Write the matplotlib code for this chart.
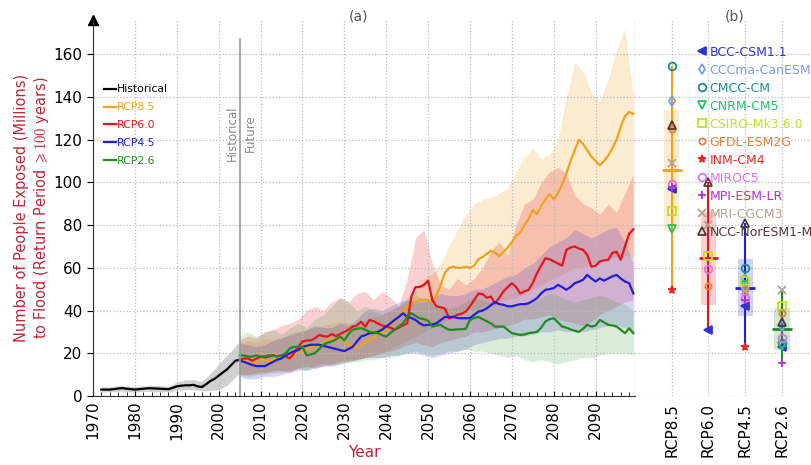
import numpy as np
import matplotlib
matplotlib.use("Agg")
import matplotlib.pyplot as plt

plt.rcParams['mathtext.fontset'] = 'cm'

# ---------------- data: panel (a) ----------------
hist_years = np.arange(1972, 2006)
hist = [3, 3, 3, 3.2, 3.5, 3.7, 3.4, 3.2, 3.0, 3.2, 3.4, 3.6, 3.6, 3.5, 3.4, 3.3, 3.2,
        3.8, 4.5, 4.8, 5.0, 5.0, 5.2, 4.5, 4.2, 5.5, 7, 8, 9.5, 11, 12.5, 14.5, 16.5, 17]
hist_lo = [1.8, 1.9, 2.0, 2.0, 2.2, 2.3, 2.1, 2.0, 1.9, 2.0, 2.1, 2.2, 2.2, 2.1, 2.0, 2.0, 1.9,
           2.2, 2.6, 2.8, 3.0, 3.0, 3.0, 2.7, 2.4, 2.5, 2.6, 2.8, 3.0, 4.0, 5.0, 7.0, 9.0, 10.5]
hist_hi = [4.2, 4.2, 4.3, 4.5, 4.8, 5.0, 4.7, 4.5, 4.3, 4.5, 4.7, 4.9, 5.0, 4.9, 4.8, 4.7, 4.6,
           5.5, 6.5, 7.0, 7.5, 7.5, 7.8, 7.0, 7.0, 8.5, 10.5, 12.5, 15.0, 17.0, 19.0, 21.0, 23.5, 25.5]

years = np.arange(2005, 2100)
rcp85 = [17, 16.5, 16, 15.5, 16,
         16.5, 17, 16, 17, 17.5, 18, 18.5, 19, 20, 20.5,
         21, 22, 23, 23.5, 24, 25, 26, 26.5, 27, 26.5,
         25.5, 24, 23, 22.5, 24, 25, 26.5, 27.5, 28.5, 29.5,
         31, 33, 35, 37, 40, 42, 43, 44, 45, 45,
         45, 44, 47, 52, 57.5, 60, 60.5, 60, 60, 60.5,
         60, 61, 64, 65, 66.5, 68, 67, 65.5, 67.5, 69.5,
         72, 75, 76.5, 80, 83, 87, 85, 89, 92, 94.5,
         92, 95, 99, 104, 110, 115, 120, 118, 115, 112,
         110, 108, 110, 112.5, 116, 120, 126, 131, 133, 132]
rcp60 = [17, 17.5, 17.6, 16.5, 17.5,
         18.4, 18, 18.5, 19, 18.5, 19, 18.5, 17.6, 20, 23,
         25.5, 26, 26, 27, 28.6, 28, 27.8, 29, 28, 29,
         30, 31, 32.5, 33, 34.8, 32.5, 35.6, 35, 34, 33,
         32.5, 32, 31, 32, 33, 34, 46.5, 51, 51, 52,
         54, 45, 42, 41.5, 41, 36.4, 37, 38, 38.5, 39.5,
         42, 45, 48, 47.7, 46, 46.5, 43.4, 46, 49, 51,
         52.8, 51, 48, 49, 49.7, 53, 57.5, 61, 64.5, 64,
         63, 62, 61, 68.4, 69.5, 70, 69, 68.4, 66, 60.5,
         61, 63, 63.5, 63.7, 67, 67.5, 63.7, 70, 76, 78]
rcp45 = [16.6, 16, 15.3, 14.5, 14,
         14, 14, 15, 16, 17, 17.6, 19, 20, 21, 21.5,
         23, 23.5, 24, 24, 24, 23.5, 23, 22.5, 22, 21.5,
         21, 22, 23, 25.5, 27.8, 28.5, 29.4, 29.5, 30, 31,
         32.5, 34, 35.6, 37, 38.75, 37, 36.5, 35.6, 34, 33,
         33.3, 33.5, 34, 35.5, 37, 37, 37, 36.5, 36.4, 36.4,
         36.5, 38, 39.5, 40, 41, 42.5, 44, 43, 42.7, 42,
         42, 42.5, 43, 43, 43.4, 44.5, 45.8, 48, 49.7, 50,
         50.5, 52, 51, 49.7, 51, 52.8, 53.5, 54.4, 56.7, 55,
         53.6, 55, 54, 55, 56, 56.7, 55, 53.6, 52.8, 48]
rcp26 = [19, 19, 18.4, 18.5, 19,
         18.5, 18.5, 19, 19, 18.5, 19, 20, 22.3, 23, 23,
         23, 19, 19.5, 20, 22, 24, 25, 25.5, 26.5, 27.8,
         26, 29, 31, 31.5, 31.7, 31, 30, 29.7, 29.4, 28.5,
         27.8, 29.5, 31, 32.5, 34, 37, 38.75, 37.5, 36.4, 36,
         35.3, 32.5, 33, 33.3, 32, 31, 31, 31.2, 31.2, 31.5,
         35.6, 36.5, 37, 36, 35, 34, 32.5, 32.5, 32.5, 31,
         29.4, 29, 28.6, 28.8, 29.4, 29.7, 30, 32, 34.8, 36,
         36.4, 34.5, 32.5, 32, 31.2, 30.5, 30, 31.5, 33.3, 32.5,
         33, 35.6, 34.5, 33.3, 33, 32.5, 31, 29.4, 31.7, 29.4]

# model spread (every 2 years)
band_years = np.arange(2005, 2100, 2)
rcp85_hi = [24, 26, 25, 27, 26, 28, 28, 30, 31, 32,
            33, 34, 35, 34, 33, 35, 37, 38, 40, 42,
            44, 50, 55, 57, 62, 70, 78, 85, 90, 92,
            93, 95, 97, 105, 112, 116, 111, 113, 120, 140,
            156, 152, 142, 138, 148, 162, 172, 140]
rcp85_lo = [10, 10, 10, 11, 11, 12, 12, 13, 13, 14,
            15, 15, 16, 16, 17, 18, 19, 20, 22, 24,
            26, 28, 30, 32, 34, 36, 38, 40, 40, 42,
            42, 44, 45, 46, 48, 50, 52, 54, 56, 58,
            60, 60, 62, 63, 64, 65, 66, 65]
rcp60_hi = [26, 28, 27, 30, 31, 33, 34, 36, 40, 42,
            40, 44, 46, 44, 48, 49, 45, 49, 46, 42,
            55, 74, 78, 62, 52, 50, 55, 52, 55, 60,
            68, 72, 66, 80, 90, 92, 100, 105, 107, 104,
            94, 90, 88, 85, 90, 86, 95, 104]
rcp60_lo = [10, 10, 11, 11, 12, 12, 11, 13, 14, 13,
            14, 15, 16, 17, 17, 18, 19, 20, 21, 22,
            24, 25, 24, 23, 25, 26, 27, 28, 30, 30,
            31, 32, 33, 34, 36, 36, 37, 38, 36, 35,
            34, 33, 35, 38, 40, 42, 44, 45]
rcp45_hi = [25, 24, 23, 24, 26, 27, 29, 30, 31, 33,
            32, 32, 34, 33, 36, 40, 41, 40, 42, 44,
            45, 44, 44, 46, 48, 47, 47, 48, 50, 50,
            52, 54, 56, 57, 60, 62, 66, 70, 72, 74,
            78, 76, 74, 76, 78, 79, 72, 62]
rcp45_lo = [9, 8, 8, 9, 9, 10, 11, 12, 12, 13,
            14, 14, 15, 16, 17, 18, 18, 18, 19, 19,
            20, 20, 19, 18, 19, 20, 21, 22, 24, 25,
            26, 27, 27, 28, 28, 29, 30, 30, 31, 30,
            31, 30, 31, 32, 33, 33, 32, 30]
rcp26_hi = [28, 30, 28, 30, 31, 29, 32, 34, 32, 36,
            38, 42, 46, 44, 40, 42, 40, 38, 40, 42,
            46, 47, 45, 44, 42, 41, 42, 44, 46, 45,
            44, 43, 42, 42, 43, 44, 46, 48, 47, 45,
            44, 45, 46, 47, 46, 44, 43, 40]
rcp26_lo = [10, 9, 10, 10, 11, 11, 12, 13, 12, 14,
            15, 14, 15, 16, 16, 17, 17, 18, 18, 19,
            20, 21, 20, 19, 20, 21, 21, 22, 21, 21,
            20, 19, 18, 19, 17, 16, 17, 16, 15, 16,
            17, 18, 18, 19, 20, 20, 20, 19]

# ---------------- data: panel (b) ----------------
scenarios = ['RCP8.5', 'RCP6.0', 'RCP4.5', 'RCP2.6']
scen_colors = ['#eea21d', '#e8141c', '#1f1fd6', '#1f8a1f']
models = ['BCC-CSM1.1', 'CCCma-CanESM2', 'CMCC-CM', 'CNRM-CM5', 'CSIRO-Mk3.6.0',
          'GFDL-ESM2G', 'INM-CM4', 'MIROC5', 'MPI-ESM-LR', 'MRI-CGCM3', 'NCC-NorESM1-M']
model_markers = ['<', 'd', 'o', 'v', 's', 'o', '*', 'o', '+', 'x', '^']
model_colors = ['#3232d0', '#7a9be6', '#1a8c8c', '#21c465', '#c5e01e',
                '#e8823a', '#e52a2a', '#e070e8', '#b02fe0', '#b9a08f', '#4d3b3b']
nan = np.nan
rcp85_models = [97, 138.3, 154.7, 78, 86.6, 125, 49.5, 99, 98, 109, 127]
rcp60_models = [30.8, nan, nan, nan, 65.4, 51.5, nan, 59.3, nan, 80, 100]
rcp45_models = [42, 55, 60, 52, 54, 50, 23, 46, 45, 49, 81]
rcp26_models = [23, 33, 25, 23.5, 42, 39, nan, 27, 15.5, 49.5, 34.7]

# ---------------- figure ----------------
fig = plt.figure(figsize=(8.11, 4.65), dpi=100)
ax = fig.add_axes([93 / 811, 69 / 465, 542 / 811, 376 / 465])
axb = fig.add_axes([635 / 811, 69 / 465, 176 / 811, 376 / 465])

red_lab = '#b8283a'
grid_kw = dict(color='#bbbbbb', linestyle=':', linewidth=0.9)

# bands
ax.fill_between(hist_years, hist_lo, hist_hi, color='#999999', alpha=0.45, lw=0)
bands = [(rcp85_lo, rcp85_hi), (rcp60_lo, rcp60_hi), (rcp45_lo, rcp45_hi), (rcp26_lo, rcp26_hi)]
alphas = [0.2, 0.2, 0.18, 0.16]
for (lo, hi), c, a in zip(bands, scen_colors, alphas):
    ax.fill_between(band_years, lo, hi, color=c, alpha=a, lw=0)

ax.plot(hist_years, hist, color='black', lw=1.6, label='Historical')
for vals, c, s in zip([rcp85, rcp60, rcp45, rcp26], scen_colors, scenarios):
    ax.plot(years, vals, color=c, lw=1.6, label=s)

ax.axvline(2005, ymax=167 / 176, color='#999999', lw=1.2)
ax.text(2003.2, 123, 'Historical', rotation=90, ha='center', va='center', color='#888888', fontsize=8.5)
ax.text(2007.6, 123, 'Future', rotation=90, ha='center', va='center', color='#888888', fontsize=8.5)

ax.set_xlim(1970, 2099.4)
ax.set_ylim(0, 176)
ax.set_xticks(np.arange(1970, 2091, 10))
ax.set_xticks(np.arange(1970, 2100, 2), minor=True)
ax.set_yticks(np.arange(0, 161, 20))
ax.tick_params(axis='x', which='both', direction='in', labelrotation=90, labelsize=11)
ax.tick_params(axis='x', which='minor', length=3)
ax.tick_params(axis='y', labelsize=11, length=4)
ax.grid(True, **grid_kw)
ax.spines['top'].set_visible(False)
for sp in ['left', 'bottom', 'right']:
    ax.spines[sp].set_color('#333333')
ax.plot([0], [1], marker='^', color='black', markersize=7, transform=ax.transAxes, clip_on=False)

ax.set_xlabel('Year', color=red_lab, fontsize=11)
ax.set_ylabel('Number of People Exposed (Millions)\nto Flood (Return Period $\\geqslant 100$ years)',
              color=red_lab, fontsize=10.5, labelpad=2)

ax.legend(loc='upper left', bbox_to_anchor=(0.012, 0.84), frameon=False, fontsize=7.8,
          handlelength=1.1, handletextpad=0.1, labelspacing=0.72, borderaxespad=0,
          labelcolor='linecolor')

# ---------------- panel (b) ----------------
pos = np.arange(1, 5)
model_vals = np.array([rcp85_models, rcp60_models, rcp45_models, rcp26_models], dtype=float)
means = np.nanmean(model_vals, axis=1)
stds = np.nanstd(model_vals, axis=1)
mins = np.nanmin(model_vals, axis=1)
maxs = np.nanmax(model_vals, axis=1)

axb.bar(pos, 2 * stds, bottom=means - stds, width=0.42, color=scen_colors, alpha=0.2, zorder=2)
axb.vlines(pos, mins, maxs, colors=scen_colors, lw=1.5, zorder=3)
axb.hlines(means, pos - 0.27, pos + 0.27, colors=scen_colors, lw=2, zorder=4)

for j, (m, mk, c) in enumerate(zip(models, model_markers, model_colors)):
    v = model_vals[:, j]
    ok = ~np.isnan(v)
    hollow = mk in ['o', 's', 'v', '^', 'd']
    ms = 4.5 if m == 'GFDL-ESM2G' else 5.5
    axb.plot(pos[ok], v[ok], linestyle='none', marker=mk, markersize=ms,
             markerfacecolor='none' if hollow else c, markeredgecolor=c, markeredgewidth=1.3,
             label=m, zorder=5)

axb.legend(loc='upper left', bbox_to_anchor=(0.33, 0.945), frameon=False, fontsize=9,
           handlelength=0.6, handletextpad=0.3, labelspacing=0.4, borderaxespad=0,
           labelcolor='markeredgecolor')

axb.set_xlim(0, 4.79)
axb.set_ylim(0, 176)
axb.set_xticks(pos)
axb.set_xticklabels(scenarios, rotation=90, fontsize=11)
axb.set_yticks(np.arange(0, 161, 20))
axb.tick_params(axis='y', left=False, labelleft=False)
axb.tick_params(axis='x', length=0, pad=5)
axb.grid(True, **grid_kw)
for sp in axb.spines.values():
    sp.set_visible(False)

fig.text(358 / 811, 1 - 16 / 465, '(a)', ha='center', va='center', color='#555555', fontsize=10)
fig.text(735 / 811, 1 - 16 / 465, '(b)', ha='center', va='center', color='#555555', fontsize=10)

fig.savefig('out.png', dpi=100)
